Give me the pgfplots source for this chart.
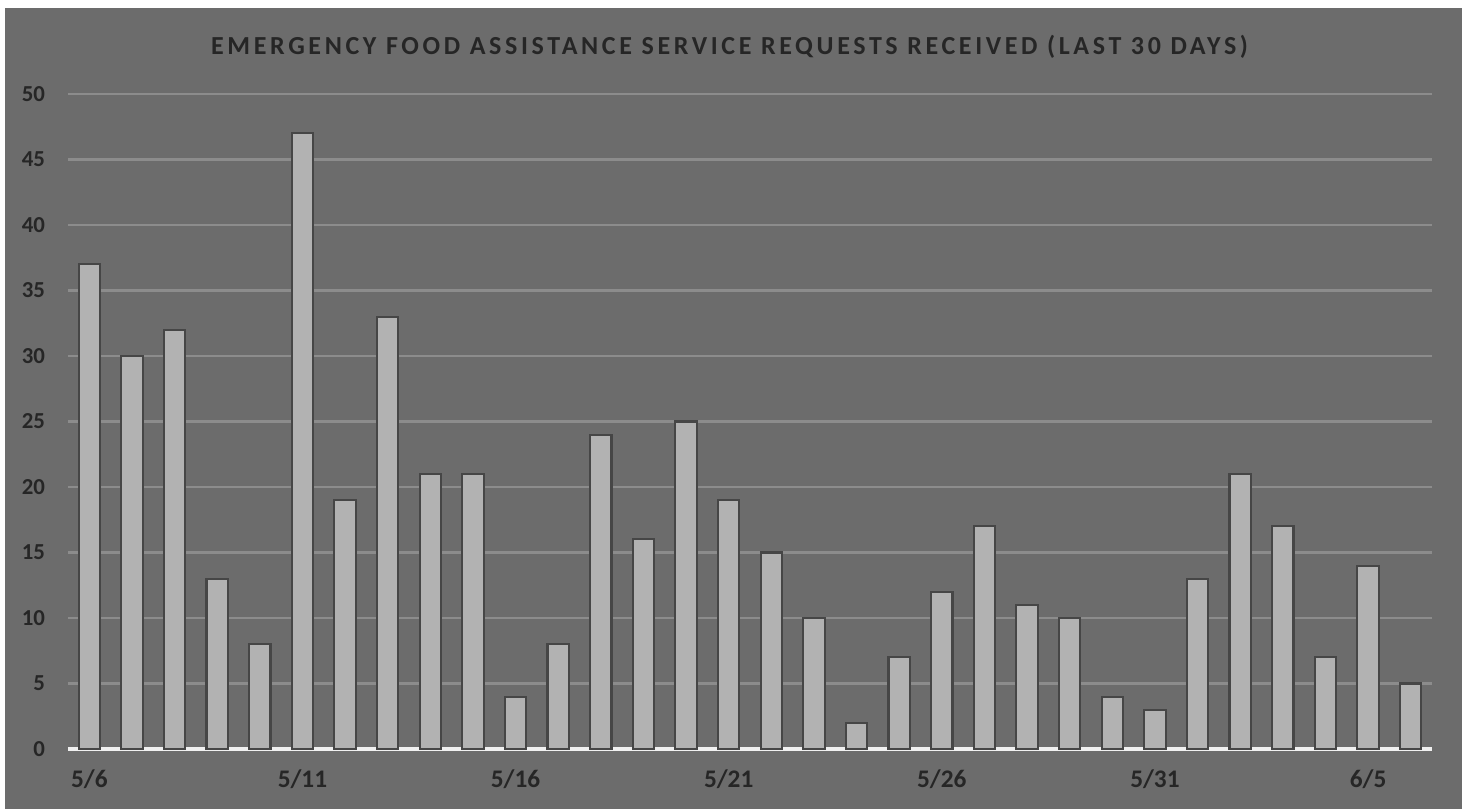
\documentclass[border=0pt]{standalone}
\usepackage{pgfplots}
\pgfplotsset{compat=1.18}
\usepackage{fontspec}
\setmainfont{Carlito}
\newfontfamily\titlefont[LetterSpace=14]{Carlito}
\definecolor{bgc}{RGB}{108,108,108}
\definecolor{barc}{RGB}{178,178,178}
\definecolor{baredge}{RGB}{70,70,70}
\definecolor{gridc}{RGB}{140,140,140}
\definecolor{txtc}{RGB}{38,38,38}
\pgfplotstableread{
x y
0 37
1 30
2 32
3 13
4 8
5 47
6 19
7 33
8 21
9 21
10 4
11 8
12 24
13 16
14 25
15 19
16 15
17 10
18 2
19 7
20 12
21 17
22 11
23 10
24 4
25 3
26 13
27 21
28 17
29 7
30 14
31 5
}\datatable
\begin{document}
\begin{tikzpicture}
\fill[white] (0,0) rectangle (14.67,8.09);
\fill[bgc] (0.05,0) rectangle (14.62,8.01);
\begin{axis}[
  at={(0.68cm,0.60cm)}, anchor=south west,
  scale only axis, width=13.64cm, height=6.55cm,
  xmin=-0.5, xmax=31.5, ymin=0, ymax=50,
  axis x line*=bottom, axis y line*=left,
  y axis line style={draw=none},
  x axis line style={-, draw=white!88!gray, line width=1.3pt},
  xtick={0,5,10,15,20,25,30},
  xticklabels={5/6,5/11,5/16,5/21,5/26,5/31,6/5},
  ytick={0,5,...,50},
  major tick length=0pt,
  ymajorgrids, grid style={gridc, line width=0.7pt},
  tick label style={text=txtc, font=\fontsize{6.5}{7}\selectfont\bfseries},
  xticklabel style={yshift=-2.5pt, font=\fontsize{7.2}{8}\selectfont\bfseries},
  /pgf/number format/assume math mode=true,
  yticklabel style={xshift=-3pt},
  every axis title shift=0pt,
  title={\titlefont\bfseries EMERGENCY FOOD ASSISTANCE SERVICE REQUESTS RECEIVED (LAST 30 DAYS)},
  title style={at={(axis description cs:0.485,1.072)}, anchor=center, text=txtc, font=\fontsize{7.4}{8}\selectfont},
  clip=false,
]
\addplot[ybar, bar width=0.5, fill=barc, draw=baredge, line width=0.6pt] table[x=x,y=y] {\datatable};
\end{axis}
\end{tikzpicture}
\end{document}
